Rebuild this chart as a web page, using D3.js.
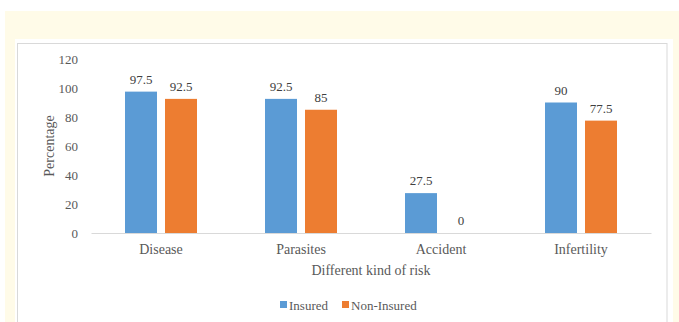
<!DOCTYPE html>
<html>
<head>
<meta charset="utf-8">
<script src="https://cdn.jsdelivr.net/npm/d3@7"></script>
<style>
  body { margin: 0; background: #fff; }
  svg { display: block; }
</style>
</head>
<body>
<svg id="chart"></svg>
<script>
const categories = ["Disease", "Parasites", "Accident", "Infertility"];
const seriesNames = ["Insured", "Non-Insured"];
const insured = [97.5, 92.5, 27.5, 90];
const nonInsured = [92.5, 85, 0, 77.5];
const yTicks = [0, 20, 40, 60, 80, 100, 120];

const seriesColors = ["#5b9bd5", "#ed7d31"];
const width = 679, height = 322;
const font = "'Liberation Serif', 'Times New Roman', serif";
const textColor = "#595959";

const data = categories.map((c, i) => ({name: c, values: [insured[i], nonInsured[i]]}));

const svg = d3.select("#chart")
    .attr("width", width)
    .attr("height", height)
    .attr("viewBox", [0, 0, width, height]);

// page background
svg.append("rect").attr("x", 5).attr("y", 11).attr("width", width - 5).attr("height", height - 11)
    .attr("fill", "#fffbe8");
svg.append("rect").attr("x", 15).attr("y", 39).attr("width", 658).attr("height", height - 39)
    .attr("fill", "#fff");
svg.append("rect").attr("x", 17.5).attr("y", 43.5).attr("width", 649.5).attr("height", height)
    .attr("fill", "none").attr("stroke", "#d9d9d9");

const margin = ({top: 59, right: 28, bottom: 89, left: 91});

const x = d3.scaleBand()
    .domain(categories)
    .range([margin.left, width - margin.right])
    .paddingInner(0)
    .paddingOuter(0);

const xs = d3.scaleBand()
    .domain(seriesNames)
    .range([34, x.bandwidth() - 34])
    .paddingInner(0.2);

const y = d3.scaleLinear()
    .domain([0, 120])
    .range([height - margin.bottom, margin.top]);

// y axis labels
const yAxis = g => g
    .attr("transform", `translate(${margin.left - 10},0)`)
    .call(d3.axisLeft(y).tickValues(yTicks).tickSize(0))
    .call(g => g.select(".domain").remove())
    .call(g => g.selectAll("text")
        .attr("fill", textColor)
        .style("font-size", "13px")
        .style("font-family", font));

svg.append("g").call(yAxis);

// bars
const group = svg.append("g")
    .selectAll("g")
    .data(data)
    .join("g")
    .attr("transform", d => `translate(${x(d.name)},0)`);

group.selectAll("rect")
    .data(d => d.values.map((v, i) => ({key: seriesNames[i], value: v, i})))
    .join("rect")
    .attr("x", d => xs(d.key))
    .attr("y", d => y(d.value))
    .attr("width", xs.bandwidth())
    .attr("height", d => y(0) - y(d.value))
    .attr("fill", d => seriesColors[d.i]);

group.selectAll("text")
    .data(d => d.values.map((v, i) => ({key: seriesNames[i], value: v})))
    .join("text")
    .attr("x", d => xs(d.key) + xs.bandwidth() / 2)
    .attr("y", d => y(d.value) - 8)
    .attr("text-anchor", "middle")
    .attr("fill", "#404040")
    .style("font-size", "13px")
    .style("font-family", font)
    .text(d => d.value);

// x axis
const xAxis = g => g
    .attr("transform", `translate(0,${y(0)})`)
    .call(d3.axisBottom(x).tickSize(0).tickPadding(11))
    .call(g => g.select(".domain").attr("stroke", "#d9d9d9"))
    .call(g => g.selectAll("text")
        .attr("fill", textColor)
        .style("font-size", "14px")
        .style("font-family", font));

svg.append("g").call(xAxis);

// axis titles
svg.append("text")
    .attr("x", (margin.left + width - margin.right) / 2)
    .attr("y", 275)
    .attr("text-anchor", "middle")
    .attr("fill", textColor)
    .style("font-size", "14px")
    .style("font-family", font)
    .text("Different kind of risk");

svg.append("text")
    .attr("transform", `translate(54,${(y(0) + y(120)) / 2}) rotate(-90)`)
    .attr("text-anchor", "middle")
    .attr("fill", textColor)
    .style("font-size", "14px")
    .style("font-family", font)
    .text("Percentage");

// legend
const legend = svg.append("g")
    .selectAll("g")
    .data(seriesNames)
    .join("g")
    .attr("transform", (d, i) => `translate(${i === 0 ? 280 : 342},305)`);

legend.append("rect")
    .attr("x", 0).attr("y", -4)
    .attr("width", 7).attr("height", 7)
    .attr("fill", (d, i) => seriesColors[i]);

legend.append("text")
    .attr("x", 9)
    .attr("y", 0)
    .attr("dy", "0.35em")
    .attr("fill", textColor)
    .style("font-size", "13px")
    .style("font-family", font)
    .text(d => d);
</script>
</body>
</html>
